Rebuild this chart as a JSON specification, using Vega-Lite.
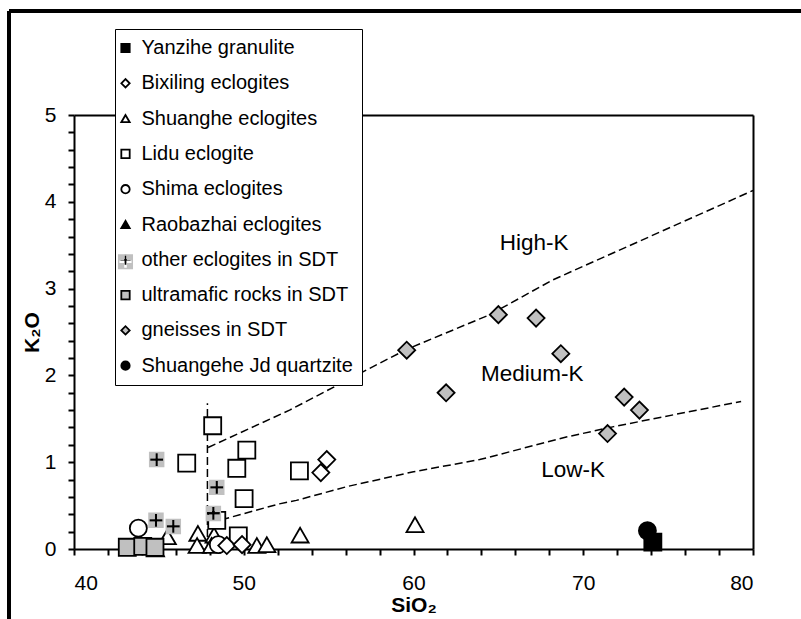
{
  "$schema": "https://vega.github.io/schema/vega-lite/v6.json",
  "width": 792,
  "height": 608,
  "autosize": {"type": "none"},
  "padding": {"left": 9, "top": 11, "right": 0, "bottom": 0},
  "background": "white",
  "config": {
    "view": {"stroke": "black", "strokeWidth": 4, "strokeDash": [792, 1400, 608, 0]},
    "font": "Liberation Sans",
    "axis": {
      "grid": false,
      "domainColor": "black",
      "domainWidth": 2,
      "tickColor": "black",
      "tickWidth": 2,
      "tickSize": 6,
      "labelFont": "Liberation Sans",
      "labelFontSize": 21,
      "labelColor": "black",
      "titleFont": "Liberation Sans",
      "titleFontSize": 21,
      "titleFontWeight": "bold",
      "titleColor": "black",
      "labelOverlap": false
    },
    "legend": {"labelFont": "Liberation Sans"}
  },
  "datasets": {
    "samples": [
      {"type": "Shuanghe eclogites", "SiO2": 45.5, "K2O": 0.14},
      {"type": "Shuanghe eclogites", "SiO2": 47.3, "K2O": 0.18},
      {"type": "Shuanghe eclogites", "SiO2": 47.25, "K2O": 0.04},
      {"type": "Shuanghe eclogites", "SiO2": 48.25, "K2O": 0.16},
      {"type": "Shuanghe eclogites", "SiO2": 48.1, "K2O": 0.04},
      {"type": "Shuanghe eclogites", "SiO2": 50.77, "K2O": 0.04},
      {"type": "Shuanghe eclogites", "SiO2": 51.36, "K2O": 0.05},
      {"type": "Shuanghe eclogites", "SiO2": 53.32, "K2O": 0.16},
      {"type": "Shuanghe eclogites", "SiO2": 60.09, "K2O": 0.28},
      {"type": "Raobazhai eclogites", "SiO2": 44.8, "K2O": 0.0},
      {"type": "Shima eclogites", "SiO2": 43.79, "K2O": 0.24},
      {"type": "Shima eclogites", "SiO2": 48.5, "K2O": 0.05},
      {"type": "Lidu eclogite", "SiO2": 46.64, "K2O": 0.99},
      {"type": "Lidu eclogite", "SiO2": 48.17, "K2O": 1.42},
      {"type": "Lidu eclogite", "SiO2": 50.18, "K2O": 1.14},
      {"type": "Lidu eclogite", "SiO2": 49.59, "K2O": 0.93},
      {"type": "Lidu eclogite", "SiO2": 50.02, "K2O": 0.58},
      {"type": "Lidu eclogite", "SiO2": 48.41, "K2O": 0.33},
      {"type": "Lidu eclogite", "SiO2": 49.68, "K2O": 0.15},
      {"type": "Lidu eclogite", "SiO2": 53.28, "K2O": 0.9},
      {"type": "Bixiling eclogites", "SiO2": 54.54, "K2O": 0.88},
      {"type": "Bixiling eclogites", "SiO2": 54.89, "K2O": 1.03},
      {"type": "Bixiling eclogites", "SiO2": 49.0, "K2O": 0.04},
      {"type": "Bixiling eclogites", "SiO2": 49.9, "K2O": 0.05},
      {"type": "ultramafic rocks in SDT", "SiO2": 43.14, "K2O": 0.02},
      {"type": "ultramafic rocks in SDT", "SiO2": 44.05, "K2O": 0.03},
      {"type": "ultramafic rocks in SDT", "SiO2": 44.77, "K2O": 0.02},
      {"type": "gneisses in SDT", "SiO2": 59.6, "K2O": 2.29},
      {"type": "gneisses in SDT", "SiO2": 65.0, "K2O": 2.7},
      {"type": "gneisses in SDT", "SiO2": 67.22, "K2O": 2.66},
      {"type": "gneisses in SDT", "SiO2": 68.68, "K2O": 2.25},
      {"type": "gneisses in SDT", "SiO2": 61.92, "K2O": 1.8},
      {"type": "gneisses in SDT", "SiO2": 72.41, "K2O": 1.75},
      {"type": "gneisses in SDT", "SiO2": 73.31, "K2O": 1.6},
      {"type": "gneisses in SDT", "SiO2": 71.43, "K2O": 1.33},
      {"type": "Shuangehe Jd quartzite", "SiO2": 73.78, "K2O": 0.21},
      {"type": "Yanzihe granulite", "SiO2": 74.1, "K2O": 0.08},
      {"type": "other eclogites in SDT", "SiO2": 44.87, "K2O": 1.03},
      {"type": "other eclogites in SDT", "SiO2": 48.41, "K2O": 0.71},
      {"type": "other eclogites in SDT", "SiO2": 48.21, "K2O": 0.41},
      {"type": "other eclogites in SDT", "SiO2": 44.83, "K2O": 0.33},
      {"type": "other eclogites in SDT", "SiO2": 45.85, "K2O": 0.26}
    ],
    "boundaries": [
      {"line": "series boundary", "SiO2": 47.86, "K2O": 0.0},
      {"line": "series boundary", "SiO2": 47.86, "K2O": 1.68},
      {"line": "high-K boundary", "SiO2": 47.9, "K2O": 1.17},
      {"line": "high-K boundary", "SiO2": 52.7, "K2O": 1.6},
      {"line": "high-K boundary", "SiO2": 58.0, "K2O": 2.14},
      {"line": "high-K boundary", "SiO2": 59.6, "K2O": 2.3},
      {"line": "high-K boundary", "SiO2": 64.5, "K2O": 2.7},
      {"line": "high-K boundary", "SiO2": 68.2, "K2O": 3.1},
      {"line": "high-K boundary", "SiO2": 80.0, "K2O": 4.13},
      {"line": "low-K boundary", "SiO2": 48.0, "K2O": 0.3},
      {"line": "low-K boundary", "SiO2": 52.1, "K2O": 0.52},
      {"line": "low-K boundary", "SiO2": 53.1, "K2O": 0.56},
      {"line": "low-K boundary", "SiO2": 56.1, "K2O": 0.72},
      {"line": "low-K boundary", "SiO2": 60.0, "K2O": 0.89},
      {"line": "low-K boundary", "SiO2": 63.9, "K2O": 1.03},
      {"line": "low-K boundary", "SiO2": 69.0, "K2O": 1.29},
      {"line": "low-K boundary", "SiO2": 71.8, "K2O": 1.41},
      {"line": "low-K boundary", "SiO2": 79.3, "K2O": 1.7}
    ],
    "fields": [
      {"label": "High-K", "SiO2": 67.1, "K2O": 3.52},
      {"label": "Medium-K", "SiO2": 67.0, "K2O": 2.02},
      {"label": "Low-K", "SiO2": 69.4, "K2O": 0.91}
    ]
  },
  "encoding": {
    "x": {
      "field": "SiO2",
      "type": "quantitative",
      "scale": {"domain": [40, 80], "range": [65, 744], "nice": false, "zero": false},
      "axis": null
    },
    "y": {
      "field": "K2O",
      "type": "quantitative",
      "scale": {"domain": [0, 5], "range": [538, 104], "nice": false},
      "axis": null
    }
  },
  "layer": [
    {
      "data": {"name": "boundaries"},
      "mark": {"type": "line", "color": "black", "strokeWidth": 1.5, "strokeDash": [8, 4]},
      "encoding": {
        "detail": {"field": "line"},
        "x": {
          "field": "SiO2",
          "type": "quantitative",
          "scale": {"domain": [40, 80], "range": [65, 744], "nice": false, "zero": false},
          "axis": {
            "orient": "bottom",
            "offset": -70,
            "title": "SiO₂",
            "values": [40, 42, 44, 46, 48, 50, 52, 54, 56, 58, 60, 62, 64, 66, 68, 70, 72, 74, 76, 78, 80],
            "labelExpr": "datum.value % 10 === 0 ? '' + datum.value : ''",
            "labelPadding": 17,
            "titlePadding": 1
          }
        },
        "y": {
          "field": "K2O",
          "type": "quantitative",
          "scale": {"domain": [0, 5], "range": [538, 104], "nice": false},
          "axis": {
            "orient": "left",
            "offset": -65,
            "title": "K₂O",
            "values": [0, 0.2, 0.4, 0.6, 0.8, 1, 1.2, 1.4, 1.6, 1.8, 2, 2.2, 2.4, 2.6, 2.8, 3, 3.2, 3.4, 3.6, 3.8, 4, 4.2, 4.4, 4.6, 4.8, 5],
            "labelExpr": "datum.value % 1 === 0 ? '' + datum.value : ''",
            "labelPadding": 12,
            "titlePadding": 2
          }
        }
      }
    },
    {
      "data": {"name": "samples"},
      "transform": [{"filter": "datum.type !== 'other eclogites in SDT'"}],
      "mark": {"type": "point", "filled": true, "opacity": 1, "strokeWidth": 1.8, "size": 290},
      "encoding": {
        "shape": {
          "field": "type",
          "type": "nominal",
          "scale": {
            "domain": ["Yanzihe granulite", "Bixiling eclogites", "Shuanghe eclogites", "Lidu eclogite", "Shima eclogites", "Raobazhai eclogites", "other eclogites in SDT", "ultramafic rocks in SDT", "gneisses in SDT", "Shuangehe Jd quartzite"],
            "range": ["square", "diamond", "triangle-up", "square", "circle", "triangle-up", "M-1.2,0H1.2M0,-1.2V1.2", "square", "diamond", "circle"]
          },
          "legend": {
            "orient": "none", "legendX": 106, "legendY": 18, "title": null,
            "symbolSize": 70, "symbolStrokeWidth": 1.8, "symbolOffset": -8.5,
            "labelFontSize": 20, "labelColor": "black", "labelOffset": 6, "labelLimit": 400,
            "rowPadding": 15.3, "padding": 9,
            "fillColor": "white", "strokeColor": "black",
            "encode": {"legend": {"update": {"strokeWidth": {"value": 2}}}}
          }
        },
        "fill": {
          "field": "type",
          "type": "nominal",
          "scale": {
            "domain": ["Yanzihe granulite", "Bixiling eclogites", "Shuanghe eclogites", "Lidu eclogite", "Shima eclogites", "Raobazhai eclogites", "other eclogites in SDT", "ultramafic rocks in SDT", "gneisses in SDT", "Shuangehe Jd quartzite"],
            "range": ["black", "white", "white", "white", "white", "black", "transparent", "#c0c0c0", "#c0c0c0", "black"]
          },
          "legend": {
            "orient": "none", "legendX": 106, "legendY": 18, "title": null,
            "symbolSize": 70, "symbolStrokeWidth": 1.8, "symbolOffset": -8.5,
            "labelFontSize": 20, "labelColor": "black", "labelOffset": 6, "labelLimit": 400,
            "rowPadding": 15.3, "padding": 9,
            "fillColor": "white", "strokeColor": "black",
            "encode": {"legend": {"update": {"strokeWidth": {"value": 2}}}}
          }
        },
        "stroke": {
          "field": "type",
          "type": "nominal",
          "scale": {
            "domain": ["Yanzihe granulite", "Bixiling eclogites", "Shuanghe eclogites", "Lidu eclogite", "Shima eclogites", "Raobazhai eclogites", "other eclogites in SDT", "ultramafic rocks in SDT", "gneisses in SDT", "Shuangehe Jd quartzite"],
            "range": ["black", "black", "black", "black", "black", "black", "black", "black", "black", "black"]
          },
          "legend": {
            "orient": "none", "legendX": 106, "legendY": 18, "title": null,
            "symbolSize": 70, "symbolStrokeWidth": 1.8, "symbolOffset": -8.5,
            "labelFontSize": 20, "labelColor": "black", "labelOffset": 6, "labelLimit": 400,
            "rowPadding": 15.3, "padding": 9,
            "fillColor": "white", "strokeColor": "black",
            "encode": {"legend": {"update": {"strokeWidth": {"value": 2}}}}
          }
        }
      }
    },
    {
      "data": {"name": "samples"},
      "transform": [{"filter": "datum.type === 'other eclogites in SDT'"}],
      "mark": {"type": "point", "filled": true, "opacity": 1, "size": 74, "stroke": "transparent", "strokeWidth": 1.8},
      "encoding": {
        "shape": {
          "field": "type",
          "type": "nominal",
          "scale": {
            "domain": ["Yanzihe granulite", "Bixiling eclogites", "Shuanghe eclogites", "Lidu eclogite", "Shima eclogites", "Raobazhai eclogites", "other eclogites in SDT", "ultramafic rocks in SDT", "gneisses in SDT", "Shuangehe Jd quartzite"],
            "range": ["square", "square", "square", "square", "square", "square", "M-1.8,-1.8H1.8V1.8H-1.8Z M-0.3,-1.45V-0.3H-1.45V0.3H-0.3V1.45H0.3V0.3H1.45V-0.3H0.3V-1.45Z", "square", "square", "square"]
          },
          "legend": {
            "orient": "none", "legendX": 106, "legendY": 18, "title": null,
            "symbolSize": 70, "symbolStrokeColor": "transparent", "symbolStrokeWidth": 1.8, "symbolOffset": -8.5,
            "labelFontSize": 20, "labelExpr": "''", "labelOffset": 6,
            "rowPadding": 15.3, "padding": 9
          }
        },
        "fill": {
          "field": "type",
          "type": "nominal",
          "scale": {
            "domain": ["Yanzihe granulite", "Bixiling eclogites", "Shuanghe eclogites", "Lidu eclogite", "Shima eclogites", "Raobazhai eclogites", "other eclogites in SDT", "ultramafic rocks in SDT", "gneisses in SDT", "Shuangehe Jd quartzite"],
            "range": ["transparent", "transparent", "transparent", "transparent", "transparent", "transparent", "#c0c0c0", "transparent", "transparent", "transparent"]
          },
          "legend": {
            "orient": "none", "legendX": 106, "legendY": 18, "title": null,
            "symbolSize": 70, "symbolStrokeColor": "transparent", "symbolStrokeWidth": 1.8, "symbolOffset": -8.5,
            "labelFontSize": 20, "labelExpr": "''", "labelOffset": 6,
            "rowPadding": 15.3, "padding": 9
          }
        }
      }
    },
    {
      "data": {"name": "samples"},
      "transform": [{"filter": "datum.type === 'other eclogites in SDT'"}],
      "mark": {"type": "point", "filled": false, "opacity": 1, "shape": "M-0.75,0H0.75M0,-0.75V0.75", "size": 290, "stroke": "black", "strokeWidth": 2.2}
    },
    {
      "data": {"name": "fields"},
      "mark": {"type": "text", "font": "Liberation Sans", "fontSize": 22.5, "color": "black"},
      "encoding": {
        "text": {"field": "label"},
        "x": {
          "field": "SiO2",
          "type": "quantitative",
          "scale": {"domain": [40, 80], "range": [65, 744], "nice": false, "zero": false},
          "axis": {"orient": "top", "offset": -104, "title": null, "labels": false, "ticks": false, "domain": true}
        },
        "y": {
          "field": "K2O",
          "type": "quantitative",
          "scale": {"domain": [0, 5], "range": [538, 104], "nice": false},
          "axis": {"orient": "right", "offset": -48, "title": null, "labels": false, "ticks": false, "domain": true}
        }
      }
    }
  ],
  "resolve": {
    "scale": {"fill": "independent", "shape": "independent", "stroke": "independent"},
    "legend": {"fill": "independent", "shape": "independent", "stroke": "independent"},
    "axis": {"x": "independent", "y": "independent"}
  }
}
